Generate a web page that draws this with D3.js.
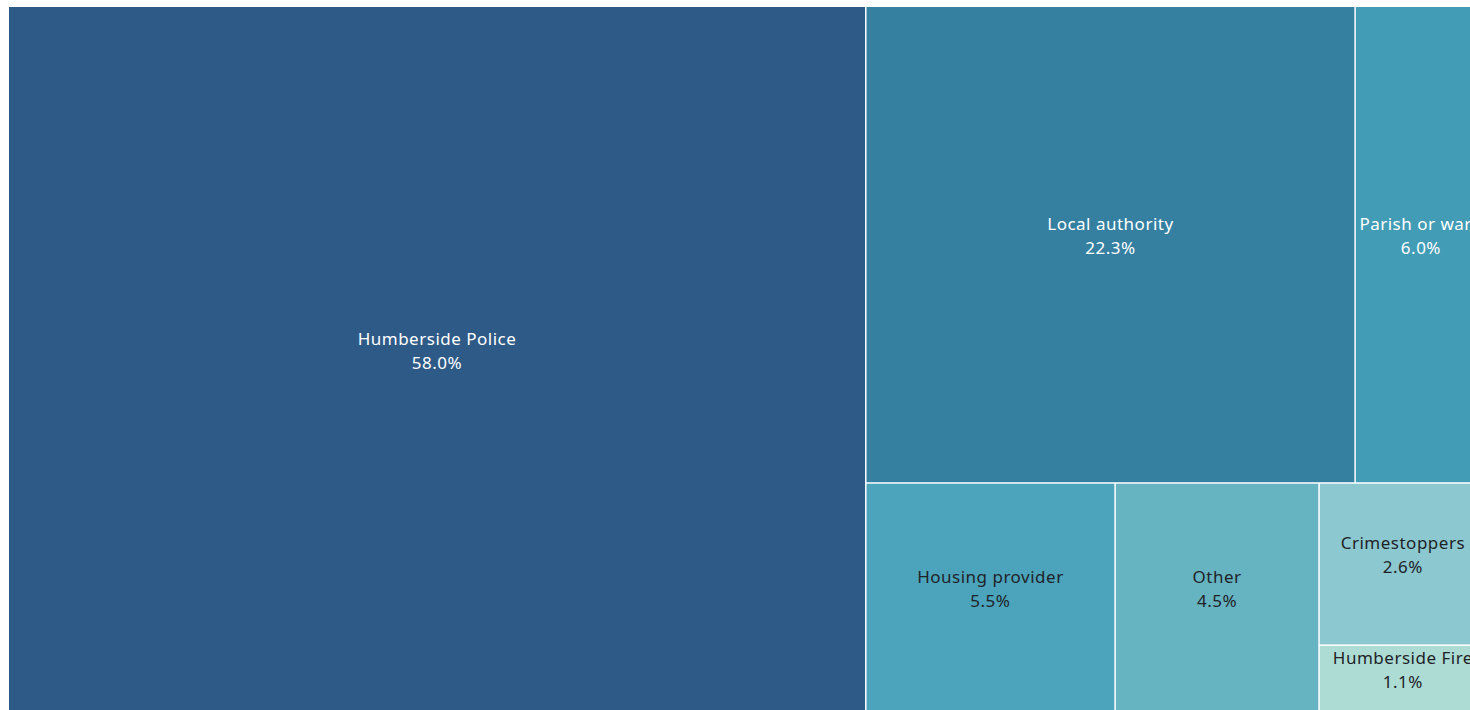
<!DOCTYPE html>
<html>
<head>
<meta charset="utf-8">
<script src="https://cdn.jsdelivr.net/npm/d3@7"></script>
<style>
  body { margin: 0; background: #fff; overflow: hidden; }
  text { font-family: "Noto Sans", sans-serif; font-size: 17px; letter-spacing: 0.5px; }
</style>
</head>
<body>
<div class="treemap"></div>
<script>
var width = 1470,
    height = 710;

// treemap is wider/taller than the window, clipped at the right and bottom
var mapWidth = 1477,
    mapHeight = 706,
    offsetX = 9,
    offsetY = 7;

var names = ["Humberside Police", "Local authority", "Parish or ward", "Housing provider", "Other", "Crimestoppers", "Humberside Fire"];
var shares = [58.0, 22.3, 6.0, 5.5, 4.5, 2.6, 1.1];
var colors = ["#2e5a87", "#357fa1", "#429cb6", "#4ba4bb", "#66b3c1", "#8cc8cf", "#acdcd4"];
var textColors = ["#ffffff", "#ffffff", "#ffffff", "#1f2328", "#1f2328", "#1f2328", "#1f2328"];

var svg = d3.select(".treemap")
    .append("svg")
    .attr("width", width)
    .attr("height", height);

var root = d3.hierarchy({
        children: names.map((n, i) => ({ name: n, value: shares[i], idx: i }))
    })
    .sum(d => d.value || 0)
    .sort((a, b) => b.value - a.value);

d3.treemap()
    .size([mapWidth, mapHeight])
    .paddingInner(1.5)
    .round(false)(root);

var g = svg.append("g")
    .attr("transform", `translate(${offsetX}, ${offsetY})`);

var cells = g.selectAll(".cell")
    .data(root.leaves())
    .join("g")
    .attr("class", "cell")
    .attr("transform", d => `translate(${d.x0}, ${d.y0})`);

cells.append("rect")
    .attr("width", d => d.x1 - d.x0)
    .attr("height", d => d.y1 - d.y0)
    .attr("fill", d => colors[d.data.idx]);

cells.append("clipPath")
    .attr("id", d => "clip" + d.data.idx)
    .append("rect")
    .attr("width", d => d.x1 - d.x0)
    .attr("height", d => d.y1 - d.y0);

var labels = cells.append("text")
    .attr("clip-path", d => `url(#clip${d.data.idx})`)
    .attr("text-anchor", "middle")
    .attr("fill", d => textColors[d.data.idx]);

labels.append("tspan")
    .attr("x", d => (d.x1 - d.x0) / 2)
    .attr("y", d => (d.y1 - d.y0) / 2 - 15)
    .text(d => d.data.name);

labels.append("tspan")
    .attr("x", d => (d.x1 - d.x0) / 2)
    .attr("y", d => (d.y1 - d.y0) / 2 + 9)
    .text(d => d3.format(".1f")(d.data.value) + "%");
</script>
</body>
</html>
